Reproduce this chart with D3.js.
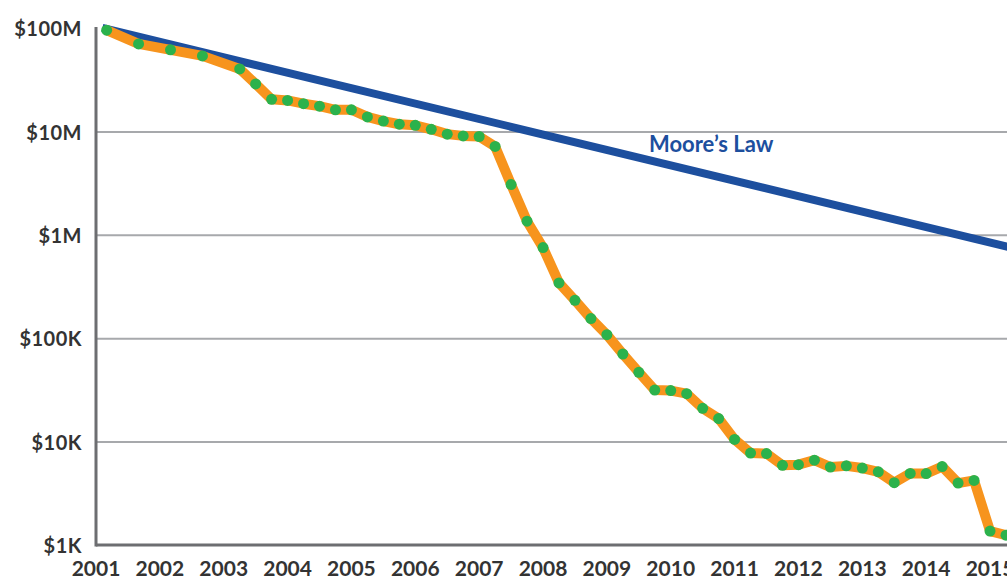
<!DOCTYPE html>
<html>
<head>
<meta charset="utf-8">
<script src="https://cdn.jsdelivr.net/npm/d3@7"></script>
<style>
  body { margin: 0; background: #fff; }
  svg text { font-family: Lato, "Open Sans", sans-serif; font-weight: bold; }
</style>
</head>
<body>
<div id="chart"></div>
<script>
  // cost per genome, quarterly (first points half-yearly)
  var dates = ['2001-09', '2002-03', '2002-09', '2003-03', '2003-10', '2004-01', '2004-04', '2004-07', '2004-10',
    '2005-01', '2005-04', '2005-07', '2005-10', '2006-01', '2006-04', '2006-07', '2006-10',
    '2007-01', '2007-04', '2007-07', '2007-10', '2008-01', '2008-04', '2008-07', '2008-10',
    '2009-01', '2009-04', '2009-07', '2009-10', '2010-01', '2010-04', '2010-07', '2010-10',
    '2011-01', '2011-04', '2011-07', '2011-10', '2012-01', '2012-04', '2012-07', '2012-10',
    '2013-01', '2013-04', '2013-07', '2013-10', '2014-01', '2014-04', '2014-07', '2014-10',
    '2015-01', '2015-04', '2015-07', '2015-10'];
  var costs = [95263072, 70175437, 61448422, 53751684, 40157554, 28780376, 20442576, 19934346, 18519312,
    17534970, 16159699, 16180224, 13801124, 12585659, 11732535, 11455315, 10474556,
    9408739, 9047002, 8927342, 7147571, 3063820, 1352982, 752080, 342502,
    232735, 154714, 108065, 70333, 46774, 31512, 31125, 29092,
    20963, 16712, 10497, 7743, 7666, 5901, 5985, 6618,
    5671, 5826, 5550, 5096, 4008, 4920, 4905, 5731,
    3970, 4211, 1363, 1245];
  // Moore's law reference line (endpoints)
  var mooreYears = [2001.6, 2015.8];
  var mooreCosts = [100000000, 760000];
  var yearTicks = d3.range(2001, 2016);
  var costTicks = [1e3, 1e4, 1e5, 1e6, 1e7, 1e8];
  var costLabels = ['$1K', '$10K', '$100K', '$1M', '$10M', '$100M'];

  var width = 1007, height = 579;
  var margin = {top: 28, right: 1, bottom: 34, left: 96};

  var svg = d3.select('#chart')
    .append('svg')
    .attr('width', width)
    .attr('height', height);

  var data = dates.map(function(d, i) {
    var p = d.split('-');
    return {t: +p[0] + (+p[1] - 1) / 12, v: costs[i]};
  });

  var xScale = d3.scaleLinear()
    .domain([2001.5, 2015.75])
    .range([margin.left, width - margin.right]);
  var yScale = d3.scaleLog()
    .domain([1e3, 1e8])
    .range([height - margin.bottom, margin.top]);

  // gridlines
  svg.append('g')
    .attr('transform', 'translate(' + margin.left + ',0)')
    .call(d3.axisLeft(yScale).tickValues(costTicks.slice(1, 5))
      .tickSize(-(width - margin.left)).tickFormat(''))
    .call(function(g) { g.select('.domain').remove(); })
    .selectAll('line')
    .attr('stroke', '#a7a9ac')
    .attr('stroke-width', 2);

  // y labels
  svg.append('g')
    .attr('transform', 'translate(' + (margin.left - 14) + ',0)')
    .call(d3.axisLeft(yScale).tickValues(costTicks).tickSize(0)
      .tickFormat(function(d, i) { return costLabels[i]; }))
    .call(function(g) { g.select('.domain').remove(); })
    .selectAll('text')
    .attr('x', 0)
    .attr('dy', '0.38em')
    .attr('fill', '#333')
    .style('font-size', '20px')
    .style('letter-spacing', '0.5px');

  // x labels (centred on mid-year)
  svg.append('g')
    .selectAll('text')
    .data(yearTicks)
    .enter()
    .append('text')
    .attr('x', function(d) { return xScale(d + 0.5); })
    .attr('y', 576)
    .attr('text-anchor', 'middle')
    .attr('fill', '#333')
    .style('font-size', '21px')
    .text(function(d) { return d; });

  // axis lines
  svg.append('line')
    .attr('x1', margin.left).attr('x2', margin.left)
    .attr('y1', margin.top - 1).attr('y2', height - margin.bottom + 1.5)
    .attr('stroke', '#6d6e71').attr('stroke-width', 3);
  svg.append('line')
    .attr('x1', margin.left).attr('x2', width)
    .attr('y1', height - margin.bottom).attr('y2', height - margin.bottom)
    .attr('stroke', '#6d6e71').attr('stroke-width', 3);

  // Moore's law
  var moore = mooreYears.map(function(d, i) { return {t: d, v: mooreCosts[i]}; });
  var line = d3.line()
    .x(function(d) { return xScale(d.t); })
    .y(function(d) { return yScale(d.v); });

  svg.append('path')
    .datum(moore)
    .attr('fill', 'none')
    .attr('stroke', '#1d4f9e')
    .attr('stroke-width', 8)
    .attr('d', line);

  svg.append('text')
    .attr('x', 649)
    .attr('y', 152)
    .attr('fill', '#1d4f9e')
    .style('font-size', '22px')
    .text('Moore\u2019s Law');

  // cost per genome
  svg.append('path')
    .datum(data)
    .attr('fill', 'none')
    .attr('stroke', '#f7941d')
    .attr('stroke-width', 10)
    .attr('stroke-linejoin', 'round')
    .attr('d', line);

  svg.selectAll('.dot')
    .data(data)
    .enter()
    .append('circle')
    .attr('class', 'dot')
    .attr('cx', function(d) { return xScale(d.t); })
    .attr('cy', function(d) { return yScale(d.v); })
    .attr('r', 5.5)
    .attr('fill', '#2bb24c');
</script>
</body>
</html>
